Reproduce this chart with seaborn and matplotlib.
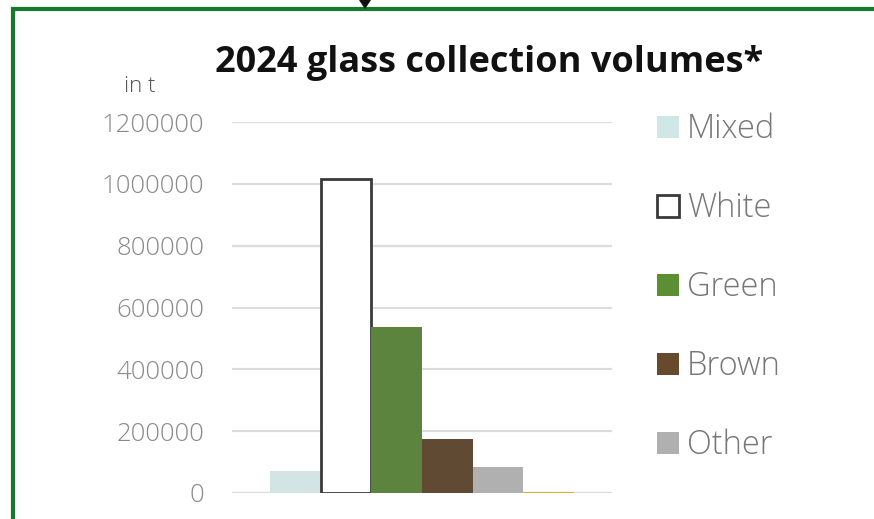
import matplotlib
matplotlib.use("Agg")
import matplotlib.pyplot as plt
from matplotlib.patches import Patch, Rectangle, Polygon
import seaborn as sns
import pandas as pd

# Collection volumes by glass colour, tonnes
glass_types = ["Mixed", "White", "Green", "Brown", "Other", "Unsorted"]
volumes = [71000, 1015000, 537000, 175000, 84000, 3000]
bar_colors = ["#cfe7e6", "#ffffff", "#5c8f33", "#674a2c", "#b0b0b0", "#f2c417"]
legend_types = ["Mixed", "White", "Green", "Brown", "Other"]
y_ticks = [0, 200000, 400000, 600000, 800000, 1000000, 1200000]

sns.set_theme(style="white")
plt.rcParams["font.family"] = ["Open Sans", "DejaVu Sans"]

df = pd.DataFrame({"year": ["2024"] * len(glass_types),
                   "type": glass_types,
                   "volume": volumes})

fig = plt.figure(figsize=(8.74, 5.19), dpi=100)
ax = fig.add_axes([232 / 874, 26 / 519, 380 / 874, 371 / 519])

sns.barplot(data=df, x="year", y="volume", hue="type", hue_order=glass_types,
            palette=dict(zip(glass_types, bar_colors)), width=0.8, gap=0,
            legend=False, ax=ax, zorder=3)

# outline the white bar so it is visible
for bar, name in zip(ax.patches, glass_types):
    bar.set_linewidth(0)
    if name == "White":
        bar.set_edgecolor("#3a3a3a")
        bar.set_linewidth(2)

ax.set_ylim(0, 1200000)
ax.set_xlim(-0.5, 0.5)
ax.set_yticks(y_ticks)
ax.set_yticklabels([str(v) for v in y_ticks], fontsize=18.5, color="#8a8a8a",
                   fontweight="light")
ax.set_xticks([])
ax.set_xlabel("")
ax.set_ylabel("")
ax.yaxis.grid(True, color="#dcdcdc", linewidth=1.6, zorder=0)
ax.tick_params(axis="y", length=0, pad=20)
for s in ax.spines.values():
    s.set_visible(False)
ax.axhline(0, color="#dcdcdc", linewidth=1.6, zorder=2)

# legend
handles = []
for name, col in zip(glass_types, bar_colors):
    if name not in legend_types:
        continue
    if name == "White":
        handles.append(Patch(facecolor=col, edgecolor="#3a3a3a", linewidth=2, label=name))
    else:
        handles.append(Patch(facecolor=col, edgecolor="none", label=name))
leg = fig.legend(handles=handles, loc="upper left", bbox_to_anchor=(657 / 874, 1 - 113 / 519),
                 frameon=False, fontsize=23.5, handlelength=0.66, handleheight=0.66,
                 handletextpad=0.25, labelspacing=1.39, borderaxespad=0, borderpad=0)
for t in leg.get_texts():
    t.set_color("#777777")
    t.set_fontweight("light")

fig.text(489 / 874, 1 - 63 / 519, "2024 glass collection volumes*", ha="center", va="center",
         fontsize=26, fontweight="bold", color="#111111")
fig.text(140 / 874, 1 - 86 / 519, "in t", ha="center", va="center",
         fontsize=16, color="#555555", fontweight="light")

# frame around the chart
fig.patches.append(Rectangle((12.5 / 874, -0.1), 1.2, 1 - 8.5 / 519 + 0.1,
                             transform=fig.transFigure, fill=False,
                             edgecolor="#167a2c", linewidth=3))
fig.patches.append(Polygon([(359 / 874, 1.0), (371 / 874, 1.0), (365 / 874, 1 - 9 / 519)],
                           closed=True, transform=fig.transFigure,
                           facecolor="#111111", edgecolor="none"))

fig.savefig("out.png", dpi=100)
